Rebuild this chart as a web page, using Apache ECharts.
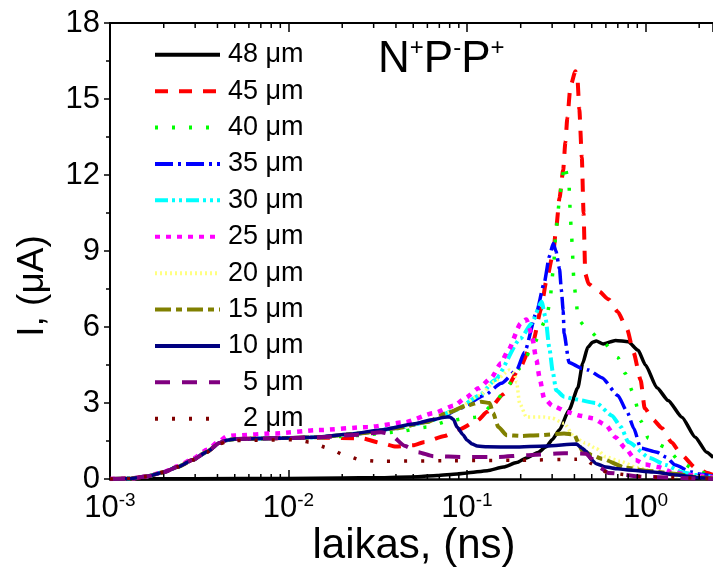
<!DOCTYPE html>
<html>
<head>
<meta charset="utf-8">
<script src="https://cdn.jsdelivr.net/npm/echarts@6/dist/echarts.min.js"></script>
<style>
html,body{margin:0;padding:0;background:#fff;}
#c{width:713px;height:571px;}
</style>
</head>
<body>
<div id="c"></div>
<script>
// ---- data (time in ns, current in µA) ----
const seriesNames = ['48 μm','45 μm','40 μm','35 μm','30 μm','25 μm','20 μm','15 μm','10 μm','\u20075 μm','\u20072 μm'];
const yTicks = [0,3,6,9,12,15,18];

const rise = [[0.001,0],[0.0013,0.02],[0.0016,0.1],[0.002,0.27],[0.0024,0.48],[0.0029,0.75],[0.0035,1.08],[0.0041,1.42],[0.0045,1.53],[0.005,1.58],[0.007,1.6],[0.01,1.62]];

const s48 = [[0.001,0],[0.003,0.01],[0.01,0.02],[0.02,0.04],[0.0316,0.05],[0.053,0.09],[0.068,0.14],[0.088,0.2],[0.1,0.24],[0.13,0.33],[0.16,0.47],[0.19,0.65],[0.215,0.83],[0.25,1.05],[0.278,1.27],[0.3,1.55],[0.329,1.93],[0.373,2.72],[0.418,3.6],[0.445,4.57],[0.475,5.2],[0.506,5.4],[0.53,5.45],[0.58,5.33],[0.68,5.47],[0.8,5.42],[0.91,5.08],[1.0,4.5],[1.16,3.6],[1.34,3.1],[1.6,2.44],[1.9,1.65],[2.2,1.06],[2.4,0.85]];

const s45 = [[0.015,1.63],[0.026,1.6],[0.033,1.42],[0.04,1.28],[0.05,1.33],[0.058,1.46],[0.075,1.7],[0.09,1.95],[0.114,2.3],[0.13,2.65],[0.16,3.35],[0.197,4.37],[0.235,5.45],[0.26,6.7],[0.278,7.8],[0.304,8.9],[0.316,9.9],[0.33,11.1],[0.346,12.2],[0.356,13.3],[0.365,14.25],[0.38,15.5],[0.405,16.1],[0.415,15.9],[0.426,14.6],[0.44,12.7],[0.45,10.5],[0.46,8.1],[0.48,7.7],[0.55,7.4],[0.62,7.1],[0.7,6.6],[0.79,5.9],[0.857,5.0],[0.94,3.9],[0.99,2.8],[1.1,2.35],[1.24,2.0],[1.4,1.45],[1.6,0.94],[1.9,0.45],[2.2,0.25],[2.4,0.15]];

const s40 = [[0.015,1.63],[0.025,1.72],[0.04,1.85],[0.06,2.05],[0.08,2.3],[0.1,2.4],[0.116,2.45],[0.143,3.0],[0.17,3.7],[0.2,4.4],[0.235,5.3],[0.278,6.3],[0.29,6.9],[0.304,8.2],[0.316,9.9],[0.33,11.0],[0.34,11.8],[0.352,12.4],[0.373,11.65],[0.376,11.0],[0.38,10.3],[0.385,9.7],[0.39,9.0],[0.393,8.35],[0.398,7.7],[0.41,7.0],[0.418,6.3],[0.475,5.9],[0.58,5.4],[0.7,4.8],[0.77,4.17],[0.85,3.43],[0.94,2.3],[1.04,1.6],[1.29,1.26],[1.6,0.63],[1.98,0.28],[2.4,0.15]];

const s35 = [[0.015,1.65],[0.025,1.8],[0.04,2.0],[0.06,2.25],[0.075,2.5],[0.092,2.8],[0.125,3.3],[0.156,3.78],[0.19,4.3],[0.21,5.0],[0.245,6.57],[0.27,7.7],[0.29,8.8],[0.304,9.3],[0.315,9.0],[0.33,8.3],[0.338,7.45],[0.346,6.65],[0.35,5.75],[0.373,4.6],[0.44,4.37],[0.48,4.3],[0.57,4.0],[0.7,3.3],[0.79,2.65],[0.86,2.0],[0.94,1.22],[1.16,1.06],[1.3,0.87],[1.47,0.55],[1.8,0.28],[2.0,0.2],[2.4,0.1]];

const s30 = [[0.015,1.65],[0.025,1.8],[0.04,2.0],[0.06,2.25],[0.085,2.7],[0.118,3.3],[0.143,3.9],[0.2,5.55],[0.23,6.14],[0.262,7.0],[0.275,6.4],[0.289,5.2],[0.303,4.2],[0.316,3.5],[0.35,3.25],[0.4,3.15],[0.53,3.0],[0.65,2.5],[0.73,2.05],[0.8,1.46],[1.06,0.83],[1.3,0.55],[1.6,0.28],[1.9,0.16],[2.4,0.08]];

const s25 = [[0.001,0],[0.0013,0.02],[0.0016,0.1],[0.002,0.28],[0.0024,0.5],[0.0029,0.8],[0.0035,1.15],[0.0041,1.5],[0.0045,1.68],[0.005,1.72],[0.0085,1.8],[0.0147,1.93],[0.0278,2.05],[0.045,2.24],[0.065,2.6],[0.085,2.9],[0.098,3.2],[0.116,3.58],[0.137,4.0],[0.155,4.57],[0.17,5.08],[0.2,6.14],[0.215,6.3],[0.23,5.75],[0.245,4.7],[0.255,4.0],[0.27,3.2],[0.3,2.9],[0.37,2.63],[0.43,2.5],[0.506,2.4],[0.6,2.13],[0.68,1.65],[0.77,1.22],[0.88,0.75],[1.0,0.57],[1.18,0.47],[1.4,0.28],[1.75,0.16],[2.4,0.06]];

const s20 = [[0.015,1.65],[0.025,1.8],[0.04,2.0],[0.06,2.25],[0.085,2.7],[0.118,3.3],[0.143,3.85],[0.173,4.3],[0.185,4.15],[0.19,3.8],[0.197,3.0],[0.215,2.45],[0.268,2.45],[0.3,2.4],[0.35,2.2],[0.4,1.65],[0.46,1.42],[0.53,1.2],[0.6,0.87],[0.72,0.7],[0.9,0.45],[1.1,0.3],[1.5,0.12],[2.4,0.03]];

const s15 = [[0.015,1.65],[0.025,1.8],[0.04,2.0],[0.06,2.25],[0.077,2.6],[0.1,2.9],[0.12,3.05],[0.134,3.0],[0.14,2.6],[0.15,2.05],[0.167,1.73],[0.2,1.7],[0.254,1.73],[0.35,1.8],[0.4,1.75],[0.42,1.45],[0.44,1.14],[0.5,0.95],[0.57,0.8],[0.77,0.45],[1.0,0.33],[1.5,0.2],[1.9,0.08],[2.4,0.03]];

const s10 = [[0.015,1.66],[0.0216,1.77],[0.033,1.93],[0.05,2.17],[0.065,2.35],[0.075,2.44],[0.08,2.45],[0.084,2.35],[0.088,2.05],[0.095,1.75],[0.1,1.54],[0.107,1.38],[0.114,1.3],[0.13,1.27],[0.183,1.26],[0.278,1.3],[0.41,1.38],[0.44,1.22],[0.464,1.1],[0.5,0.75],[0.53,0.6],[0.6,0.47],[0.7,0.4],[0.8,0.36],[1.1,0.28],[1.5,0.16],[2.0,0.05],[2.4,0.01]];

const s5 = [[0.015,1.65],[0.025,1.75],[0.033,1.85],[0.037,1.77],[0.045,1.3],[0.053,1.06],[0.065,0.9],[0.096,0.87],[0.15,0.87],[0.215,0.94],[0.35,1.02],[0.464,1.0],[0.5,0.8],[0.55,0.47],[0.62,0.24],[1.0,0.08],[2.0,0.02],[2.4,0.01]];

const s2 = [[0.001,0],[0.0013,0.02],[0.0016,0.1],[0.002,0.27],[0.0024,0.48],[0.0029,0.75],[0.0035,1.06],[0.0041,1.38],[0.0045,1.48],[0.005,1.52],[0.011,1.55],[0.0132,1.45],[0.0167,1.22],[0.0207,0.94],[0.0254,0.75],[0.0316,0.7],[0.077,0.72],[0.2,0.74],[0.41,0.78],[0.46,0.8],[0.5,0.6],[0.55,0.35],[0.65,0.22],[1.0,0.08],[2.4,0.01]];

const seriesData = [s48, rise.concat(s45), rise.concat(s40), rise.concat(s35), rise.concat(s30), s25, rise.concat(s20), rise.concat(s15), rise.concat(s10), rise.concat(s5), s2];
const colors = ['#000000','#ff0000','#00ff00','#0000ff','#00ffff','#ff00ff','#ffff80','#808000','#000080','#800080','#800000'];
const dashes = ['solid',[13,11],[3,14],[18,5,3,5],[13,4,3,4,3,4],[5,6],[2,3],[16,5,6,5],'solid',[15,12],[3,14]];
const widths = [3.5,4,3.5,3.5,4,4.5,3.5,4,3.5,4,3.5];

// minor ticks of the log axis (2..9 × decade)
const xMinor = [];
for (let d = -3; d <= 0; d++) for (let k = 2; k <= 9; k++) xMinor.push(k * Math.pow(10, d));

const FONT = 'Liberation Sans, Arial, sans-serif';
const chart = echarts.init(document.getElementById('c'));

const series = seriesData.map((d, i) => ({
  name: seriesNames[i], type: 'line', data: d, showSymbol: false, symbol: 'none',
  smooth: 0.2, smoothMonotone: 'x', z: 2 + i,
  lineStyle: {color: colors[i], width: widths[i], type: dashes[i], cap: 'butt'},
  itemStyle: {color: colors[i]}
}));
series.push({
  type: 'custom', xAxisIndex: 0, yAxisIndex: 0, silent: true, clip: false, z: 20,
  data: xMinor.map(v => [v, 0]),
  renderItem: (params, api) => {
    const b = api.coord([api.value(0), yTicks[0]]);
    const t = api.coord([api.value(0), yTicks[yTicks.length - 1]]);
    return {type: 'group', children: [
      {type: 'line', shape: {x1: b[0], y1: b[1], x2: b[0], y2: b[1] - 5}, style: {stroke: '#000', lineWidth: 1.5}},
      {type: 'line', shape: {x1: t[0], y1: t[1], x2: t[0], y2: t[1] + 5}, style: {stroke: '#000', lineWidth: 1.5}}
    ]};
  }
});

const labelFmt = v => {
  const l = Math.log10(v), e = Math.round(l);
  if (Math.abs(l - e) > 1e-6) return '';
  return '{b|10}{s|' + e + '}';
};

chart.setOption({
  animation: false,
  backgroundColor: '#fff',
  grid: {left: 110, right: -5, top: 23, bottom: 92, containLabel: false},
  xAxis: [{
    type: 'log', logBase: 10, min: 0.001, max: 2.39, position: 'bottom',
    axisLine: {lineStyle: {color: '#000', width: 2.5}},
    axisTick: {inside: true, length: 9, lineStyle: {color: '#000', width: 1.5}},
    axisLabel: {formatter: labelFmt, margin: 12, color: '#000', showMaxLabel: false,
      rich: {b: {fontSize: 31, fontFamily: FONT, color: '#000', lineHeight: 34},
             s: {fontSize: 19, fontFamily: FONT, color: '#000', verticalAlign: 'top', lineHeight: 20}}},
    splitLine: {show: false}
  }, {
    type: 'log', logBase: 10, min: 0.001, max: 2.39, position: 'top',
    axisLine: {lineStyle: {color: '#000', width: 2}},
    axisTick: {inside: true, length: 9, lineStyle: {color: '#000', width: 1.5}},
    axisLabel: {show: false}, splitLine: {show: false}
  }],
  yAxis: {
    type: 'value', min: yTicks[0], max: yTicks[yTicks.length - 1], interval: 3,
    axisLine: {show: true, lineStyle: {color: '#000', width: 2}},
    axisTick: {show: true, inside: false, length: 6, lineStyle: {color: '#000', width: 1.5}},
    minorTick: {show: true, splitNumber: 2, length: 4, lineStyle: {color: '#000', width: 1.5}},
    axisLabel: {fontSize: 31, fontFamily: FONT, color: '#000', margin: 10},
    splitLine: {show: false}
  },
  legend: {
    orient: 'vertical', left: 148, top: 36, itemWidth: 65, itemHeight: 14, itemGap: 8.9,
    data: seriesNames, selectedMode: false,
    itemStyle: {opacity: 0},
    lineStyle: {width: 4},
    textStyle: {fontSize: 27, fontFamily: FONT, color: '#000', lineHeight: 27.5, padding: [0, 0, 0, 3]}
  },
  graphic: [
    {type: 'text', x: 378, y: 36, style: {
      text: '{b|N}{s|+}{b|P}{s|-}{b|P}{s|+}',
      rich: {b: {fontSize: 44, fontFamily: FONT, fill: '#000', lineHeight: 48},
             s: {fontSize: 24, fontFamily: FONT, fill: '#000', verticalAlign: 'top', lineHeight: 24}}}},
    {type: 'text', x: 414, y: 546, style: {text: 'laikas, (ns)', fontSize: 42, fontFamily: FONT, fill: '#000', align: 'center', verticalAlign: 'middle'}},
    {type: 'text', x: 33, y: 286, rotation: Math.PI / 2, style: {text: 'I, (μA)', fontSize: 37, fontFamily: FONT, fill: '#000', align: 'center', verticalAlign: 'middle'}}
  ],
  series: series
});
</script>
</body>
</html>
